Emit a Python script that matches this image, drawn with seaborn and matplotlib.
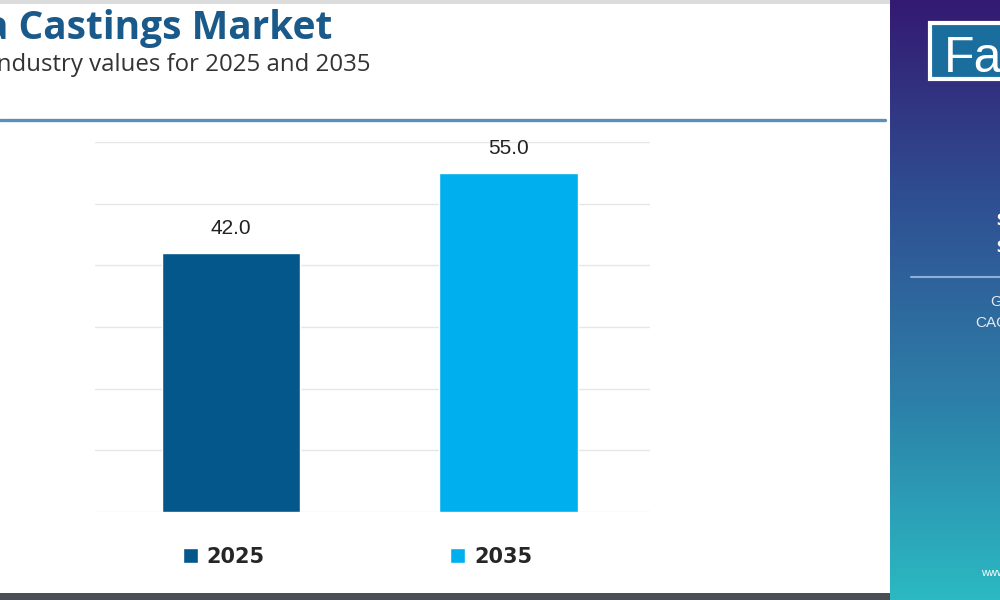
import matplotlib.pyplot as plt
import matplotlib.patches as mpatches
from matplotlib.colors import LinearSegmentedColormap
import seaborn as sns
import numpy as np

# data
years = ["2025", "2035"]
values = [42.0, 55.0]
colors = ["#03578a", "#00b0ee"]
title = "a Castings Market"
subtitle = "Industry values for 2025 and 2035"

sns.set_style("white")
plt.rcParams["font.family"] = ["Open Sans", "DejaVu Sans"]

fig = plt.figure(figsize=(10, 6), dpi=100)
fig.patch.set_facecolor("white")

# main bar axes
ax = fig.add_axes([0.095, 0.1467, 0.555, 0.6167])
sns.barplot(x=years, y=values, hue=years, palette=colors, width=0.5,
            saturation=1, legend=True, ax=ax)
ax.set_ylim(0, 60)
ax.set_xlim(-0.49, 1.51)
ax.set_yticks(np.arange(0, 61, 10))
ax.yaxis.grid(True, color="#e6e6e6", lw=1)
ax.set_axisbelow(True)
ax.tick_params(left=False, bottom=False, labelleft=False, labelbottom=False)
ax.set_xlabel("")
ax.set_ylabel("")
sns.despine(ax=ax, left=True, bottom=True)
for c in ax.containers:
    ax.bar_label(c, fmt="%.1f", padding=11, fontsize=15, color="#222222",
                 family=["Liberation Sans", "DejaVu Sans"])

sns.move_legend(ax, "center", bbox_to_anchor=(0.3575, 0.0717),
                bbox_transform=fig.transFigure, ncol=2, frameon=False,
                title=None, columnspacing=8.9, handlelength=0.72,
                handleheight=0.72, handletextpad=0.43,
                prop={"weight": "bold", "size": 15, "family": "DejaVu Sans"})

# header
fig.text(0.332, 0.953, title, ha="right", va="center", fontsize=28,
         fontweight="bold", color="#1a5a8a")
fig.text(0.370, 0.891, subtitle, ha="right", va="center", fontsize=17.3,
         color="#333333")
fig.add_artist(plt.Line2D([0, 0.885], [0.80, 0.80], transform=fig.transFigure,
                          color="#5a8fba", lw=2.4))
fig.add_artist(mpatches.Rectangle((0, 0.993), 0.89, 0.007, transform=fig.transFigure,
                                  color="#dcdcdc", lw=0))
fig.add_artist(mpatches.Rectangle((0, 0), 0.89, 0.012, transform=fig.transFigure,
                                  color="#4a4f56", lw=0))

# right side panel
pax = fig.add_axes([0.89, 0, 0.11, 1])
grad = np.linspace(0, 1, 256)[:, None]
cmap = LinearSegmentedColormap.from_list("panel", ["#341a72", "#2f4f92", "#2d7fa8", "#2bb9c2"])
pax.imshow(grad, aspect="auto", cmap=cmap, extent=[0, 1, 0, 1])
pax.set_xlim(0, 1)
pax.set_ylim(0, 1)
pax.axis("off")

fig.add_artist(mpatches.Rectangle((0.930, 0.868), 0.09, 0.094, transform=fig.transFigure,
                                  facecolor="#1a6e9e", edgecolor="white", lw=3))
fig.text(0.944, 0.880, "Fact.MR", ha="left", va="baseline", fontsize=36,
         color="white", family=["Liberation Sans", "DejaVu Sans"])
fig.text(0.996, 0.632, "$42.0", ha="left", va="center", fontsize=12,
         fontweight="bold", color="white")
fig.text(0.996, 0.587, "$55.0", ha="left", va="center", fontsize=12,
         fontweight="bold", color="white")
fig.add_artist(plt.Line2D([0.911, 1.0], [0.538, 0.538], transform=fig.transFigure,
                          color="#8cb0dc", lw=1.5))
fig.text(0.990, 0.497, "GROWTH", ha="left", va="center", fontsize=11,
         color="#e8e8f0", family=["Liberation Sans", "DejaVu Sans"])
fig.text(0.975, 0.462, "CAGR", ha="left", va="center", fontsize=11,
         color="#e8e8f0", family=["Liberation Sans", "DejaVu Sans"])
fig.text(0.981, 0.045, "www.factmr.com", ha="left", va="center", fontsize=8,
         color="white", family=["Liberation Sans", "DejaVu Sans"])

fig.savefig("out.png", dpi=100)
